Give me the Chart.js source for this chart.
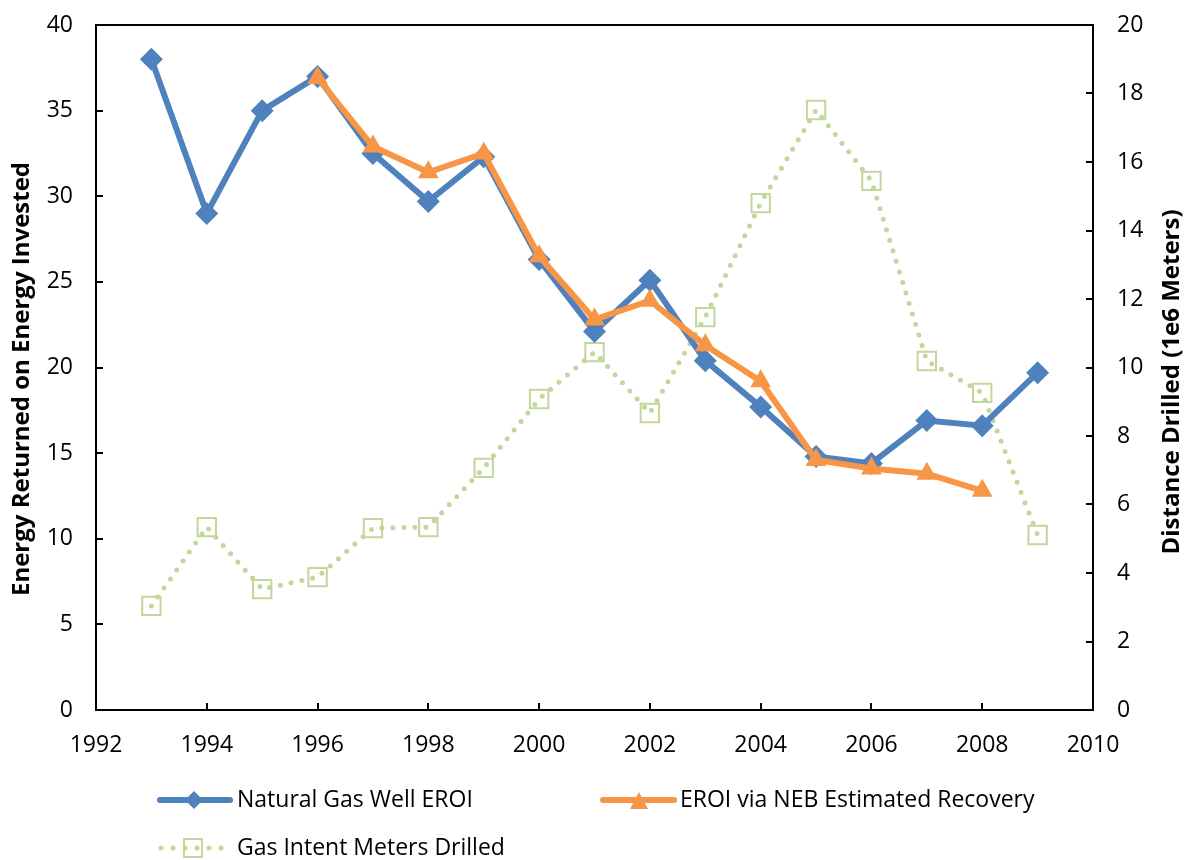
<!DOCTYPE html>
<html>
<head>
<meta charset="utf-8">
<script src="https://cdn.jsdelivr.net/npm/chart.js@4.4.0/dist/chart.umd.min.js"></script>
<style>
  html, body { margin: 0; padding: 0; background: #fff; }
  #wrap { width: 1184px; height: 860px; }
</style>
</head>
<body>
<div id="wrap"><canvas id="eroiChart" width="1184" height="860"></canvas></div>
<script>
const FONT = "'Open Sans', sans-serif";

// data
const wellYears = [1993, 1994, 1995, 1996, 1997, 1998, 1999, 2000, 2001, 2002, 2003, 2004, 2005, 2006, 2007, 2008, 2009];
const wellEroi = [38, 29, 35, 37, 32.5, 29.7, 32.3, 26.3, 22.1, 25.1, 20.4, 17.7, 14.8, 14.4, 16.9, 16.6, 19.7];

const nebYears = [1996, 1997, 1998, 1999, 2000, 2001, 2002, 2003, 2004, 2005, 2006, 2007, 2008];
const nebEroi = [36.9, 32.9, 31.4, 32.5, 26.5, 22.8, 23.9, 21.3, 19.2, 14.6, 14.1, 13.8, 12.8];

const meterYears = [1993, 1994, 1995, 1996, 1997, 1998, 1999, 2000, 2001, 2002, 2003, 2004, 2005, 2006, 2007, 2008, 2009];
const metersDrilled = [3.04, 5.34, 3.53, 3.88, 5.31, 5.34, 7.07, 9.08, 10.45, 8.67, 11.47, 14.8, 17.52, 15.45, 10.19, 9.26, 5.11];

const seriesNames = ["Natural Gas Well EROI", "EROI via NEB Estimated Recovery", "Gas Intent Meters Drilled"];
const leftTitle = "Energy Returned on Energy Invested";
const rightTitle = "Distance Drilled (1e6 Meters)";

const blue = "#4f81bd";
const orange = "#f79646";
const green = "#c3d69b";

const toPoints = (xs, ys) => xs.map((x, i) => ({ x: x, y: ys[i] }));

// frame, inner ticks and rotated axis titles
const framePlugin = {
  id: "frame",
  beforeDatasetsDraw(chart) {
    const { ctx, chartArea: a, scales } = chart;
    ctx.save();
    ctx.strokeStyle = "#000";
    ctx.lineWidth = 2;
    ctx.strokeRect(a.left, a.top, a.right - a.left, a.bottom - a.top);
    ctx.beginPath();
    scales.y.ticks.forEach(t => {
      const py = Math.round(scales.y.getPixelForValue(t.value));
      ctx.moveTo(a.left, py); ctx.lineTo(a.left + 7, py);
    });
    scales.y1.ticks.forEach(t => {
      const py = Math.round(scales.y1.getPixelForValue(t.value));
      ctx.moveTo(a.right, py); ctx.lineTo(a.right - 7, py);
    });
    scales.x.ticks.forEach(t => {
      const px = Math.round(scales.x.getPixelForValue(t.value));
      ctx.moveTo(px, a.bottom); ctx.lineTo(px, a.bottom - 7);
    });
    ctx.stroke();

    ctx.fillStyle = "#000";
    ctx.font = "bold 24px " + FONT;
    ctx.textAlign = "center";
    ctx.textBaseline = "middle";
    ctx.translate(22, 379);
    ctx.rotate(-Math.PI / 2);
    ctx.fillText(leftTitle, 0, 0);
    ctx.restore();

    ctx.save();
    ctx.fillStyle = "#000";
    ctx.font = "bold 24px " + FONT;
    ctx.textAlign = "center";
    ctx.textBaseline = "middle";
    ctx.translate(1172, 382);
    ctx.rotate(-Math.PI / 2);
    ctx.fillText(rightTitle, 0, 0);
    ctx.restore();
  }
};

// legend drawn by hand: two items on first row, one on second
const legendPlugin = {
  id: "handLegend",
  afterDraw(chart) {
    const ctx = chart.ctx;
    ctx.save();
    ctx.lineCap = "round";

    // Natural Gas Well EROI
    ctx.strokeStyle = blue; ctx.lineWidth = 6;
    ctx.beginPath(); ctx.moveTo(160, 800); ctx.lineTo(230, 800); ctx.stroke();
    ctx.fillStyle = blue;
    ctx.beginPath();
    ctx.moveTo(194, 791); ctx.lineTo(203, 800); ctx.lineTo(194, 809); ctx.lineTo(185, 800);
    ctx.closePath(); ctx.fill();

    // EROI via NEB
    ctx.strokeStyle = orange;
    ctx.beginPath(); ctx.moveTo(603, 800); ctx.lineTo(674, 800); ctx.stroke();
    ctx.fillStyle = orange;
    ctx.beginPath();
    ctx.moveTo(639, 792); ctx.lineTo(648, 809); ctx.lineTo(630, 809);
    ctx.closePath(); ctx.fill();

    // Gas Intent Meters Drilled
    ctx.strokeStyle = green; ctx.lineWidth = 5;
    ctx.setLineDash([0, 12]);
    ctx.beginPath(); ctx.moveTo(161, 848); ctx.lineTo(233, 848); ctx.stroke();
    ctx.setLineDash([]);
    ctx.lineWidth = 2;
    ctx.strokeRect(184, 839, 18, 18);

    ctx.fillStyle = "#000";
    ctx.font = "23px " + FONT;
    ctx.textAlign = "left";
    ctx.textBaseline = "middle";
    ctx.fillText(seriesNames[0], 237, 800);
    ctx.fillText(seriesNames[1], 680, 800);
    ctx.fillText(seriesNames[2], 237, 848);
    ctx.restore();
  }
};

const ctx = document.getElementById("eroiChart").getContext("2d");
new Chart(ctx, {
  type: "line",
  data: {
    datasets: [
      {
        label: seriesNames[1],
        data: toPoints(nebYears, nebEroi),
        yAxisID: "y",
        borderColor: orange,
        backgroundColor: orange,
        borderWidth: 6,
        pointStyle: "triangle",
        pointRadius: 12,
        pointBorderWidth: 0,
        order: 0
      },
      {
        label: seriesNames[0],
        data: toPoints(wellYears, wellEroi),
        yAxisID: "y",
        borderColor: blue,
        backgroundColor: blue,
        borderWidth: 6,
        pointStyle: "rectRot",
        pointRadius: 11.5,
        pointBorderWidth: 0,
        order: 1
      },
      {
        label: seriesNames[2],
        data: toPoints(meterYears, metersDrilled),
        yAxisID: "y1",
        borderColor: green,
        backgroundColor: "rgba(0,0,0,0)",
        borderWidth: 5,
        borderDash: [0, 11],
        borderCapStyle: "round",
        pointStyle: "rect",
        pointRadius: 13,
        pointBorderWidth: 2,
        pointBorderColor: green,
        order: 2
      }
    ]
  },
  options: {
    responsive: false,
    animation: false,
    layout: { padding: { top: 25, left: 0, right: 0, bottom: 0 } },
    plugins: { legend: { display: false }, tooltip: { enabled: false } },
    scales: {
      x: {
        type: "linear",
        min: 1992,
        max: 2010,
        grid: { display: false, drawTicks: true, tickLength: 22 },
        border: { display: false },
        ticks: {
          stepSize: 2,
          padding: 0,
          color: "#000",
          font: { size: 23, family: FONT },
          maxRotation: 0,
          callback: v => String(v)
        },
        afterFit: s => { s.height = 150; }
      },
      y: {
        position: "left",
        min: 0,
        max: 40,
        grid: { display: false, drawTicks: true, tickLength: 23 },
        border: { display: false },
        ticks: { stepSize: 5, padding: 0, color: "#000", font: { size: 23, family: FONT } },
        afterFit: s => { s.width = 96; }
      },
      y1: {
        position: "right",
        min: 0,
        max: 20,
        grid: { display: false, drawTicks: true, tickLength: 24 },
        border: { display: false },
        ticks: { stepSize: 2, padding: 0, color: "#000", font: { size: 23, family: FONT } },
        afterFit: s => { s.width = 91; }
      }
    }
  },
  plugins: [framePlugin, legendPlugin]
});
</script>
</body>
</html>
